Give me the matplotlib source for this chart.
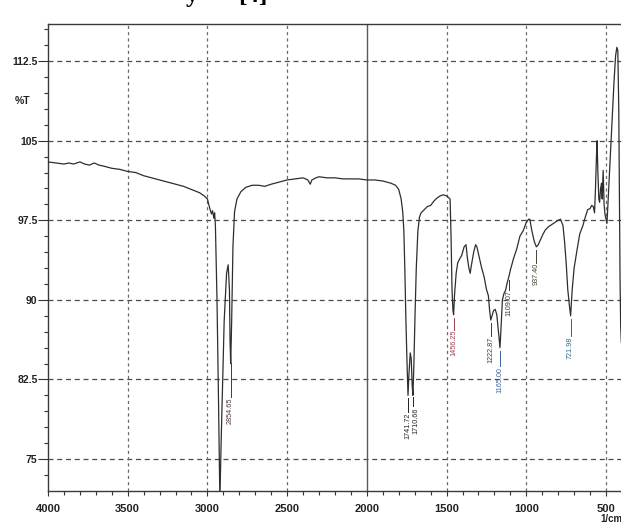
import numpy as np
import matplotlib
matplotlib.use("Agg")
import matplotlib.pyplot as plt
from matplotlib.ticker import MultipleLocator, FixedLocator

# ---------------- data ----------------
wavenumber = [
    4000, 3950, 3900, 3870, 3840, 3800, 3770, 3740, 3710, 3680, 3650, 3600, 3550,
    3500, 3450, 3400, 3350, 3300, 3250, 3200, 3150, 3100, 3050, 3020, 3000, 2985,
    2975, 2968, 2960, 2955, 2950, 2940, 2930, 2922, 2915, 2905, 2895, 2880, 2870,
    2862, 2858, 2854, 2848, 2840, 2830, 2815, 2790, 2760, 2720, 2680, 2640, 2600,
    2550, 2500, 2450, 2400, 2370, 2355, 2345, 2320, 2300, 2250, 2200, 2150, 2100,
    2050, 2000, 1950, 1900, 1850, 1820, 1800, 1785, 1775, 1768, 1762, 1755, 1748,
    1742, 1736, 1728, 1722, 1716, 1711, 1705, 1698, 1690, 1680, 1670, 1660, 1640,
    1620, 1600, 1580, 1560, 1540, 1520, 1500, 1485, 1478, 1472, 1466, 1460, 1456,
    1450, 1440, 1430, 1420, 1405, 1390, 1378, 1370, 1360, 1352, 1345, 1330, 1318,
    1310, 1295, 1280, 1265, 1250, 1238, 1230, 1223, 1215, 1205, 1195, 1185, 1175,
    1165, 1158, 1150, 1140, 1130, 1120, 1109, 1100, 1080, 1060, 1040, 1020, 1000,
    985, 978, 965, 950, 937, 925, 910, 895, 880, 860, 840, 820, 800, 785, 770, 760,
    750, 740, 730, 722, 712, 700, 684, 665, 645, 630, 615, 600, 590, 580, 572, 566,
    560, 556, 551, 545, 540, 534, 528, 524, 518, 512, 506, 500, 494, 488, 480, 470,
    460, 450, 440, 432, 426, 420, 416, 412, 408, 404,
]
transmittance = [
    103.0, 102.9, 102.8, 102.9, 102.8, 103.0, 102.8, 102.7, 102.9, 102.7, 102.6, 102.4, 102.3,
    102.1, 102.0, 101.7, 101.5, 101.3, 101.1, 100.9, 100.7, 100.4, 100.1, 99.8, 99.5, 98.6,
    98.1, 98.4, 97.7, 98.2, 97.0, 90.0, 80.0, 71.0, 76.0, 82.0, 88.0, 92.5, 93.3,
    91.0, 86.0, 84.0, 88.0, 95.0, 98.3, 99.5, 100.2, 100.6, 100.8, 100.8, 100.7, 100.9,
    101.1, 101.3, 101.4, 101.5, 101.3, 100.9, 101.3, 101.5, 101.6, 101.5, 101.5, 101.4, 101.4,
    101.4, 101.3, 101.3, 101.2, 101.0, 100.8, 100.4, 99.5, 98.3, 96.5, 93.0, 88.0, 84.0,
    81.0, 83.0, 85.0, 84.5, 82.0, 81.0, 84.0, 88.5, 93.0, 96.5, 97.8, 98.2, 98.5,
    98.8, 98.9, 99.3, 99.6, 99.8, 99.9, 99.8, 99.6, 99.5, 96.0, 91.0, 89.0, 88.6,
    90.5, 92.5, 93.5, 93.8, 94.2, 95.0, 95.2, 94.0, 93.0, 92.5, 93.2, 94.5, 95.2,
    95.0, 94.0, 93.0, 92.2, 91.0, 90.4, 89.0, 88.1, 88.5, 89.0, 89.1, 88.6, 87.0,
    85.5, 87.5, 90.0, 90.6, 90.9, 91.6, 92.2, 92.8, 93.9, 94.8, 96.0, 96.5, 97.3,
    97.6, 97.6, 96.5, 95.5, 95.0, 95.2, 95.7, 96.2, 96.6, 96.9, 97.1, 97.3, 97.5, 97.6, 97.0, 95.5,
    93.5, 91.0, 89.5, 88.5, 91.0, 93.0, 94.5, 96.2, 97.0, 97.8, 98.5, 98.6, 98.9, 98.8, 98.2, 100.5,
    103.5, 105.0, 102.0, 99.5, 99.2, 100.5, 101.0, 99.5, 102.2, 99.0, 98.0, 97.6, 97.2, 99.0, 101.5, 104.5,
    107.5, 110.5, 113.0, 113.8, 113.5, 108.0, 100.0, 92.0, 87.5, 86.0,
]

peak_labels = ["2854.65", "1741.72", "1710.66", "1456.25", "1222.87",
               "1165.00", "1109.07", "937.40", "721.98"]
peak_wn = [2854.65, 1741.72, 1710.66, 1456.25, 1222.87, 1165.00, 1109.07, 937.40, 721.98]

x_ticks = [4000, 3500, 3000, 2500, 2000, 1500, 1000, 500]
y_ticks = [75, 82.5, 90, 97.5, 105, 112.5]
y_tick_labels = ["75", "82.5", "90", "97.5", "105", "112.5"]

# ---------------- layout / style ----------------
label_text_top = [80.75, 79.4, 79.9, 87.15, 86.5, 83.67, 90.9, 93.47, 86.5]
label_text_dx = [0, 4, -20, 0, 0, 0, 0, 0, 0]
label_colors = ["#4a3535", "#222222", "#222222", "#a0404e", "#3a3a3a",
                "#3a62a0", "#3a3a3a", "#45452a", "#2f6a86"]

plt.rcParams['font.family'] = ['Liberation Sans', 'DejaVu Sans']

fig = plt.figure(figsize=(6.21, 5.24), dpi=100)
ax = fig.add_axes([48 / 621, 33.5 / 524, (621 - 48) / 621, 466.5 / 524])

wn = np.array(wavenumber, dtype=float)
tr = np.array(transmittance, dtype=float)

# grid
for yt in y_ticks:
    ax.axhline(yt, color="#4a4a4a", lw=0.9, ls=(0, (4, 3)), zorder=1)
for xt in x_ticks[1:]:
    if xt == 2000:
        ax.axvline(xt, color="#5a5a5a", lw=1.0, zorder=1)
    else:
        ax.axvline(xt, color="#6a6a6a", lw=0.9, ls=(0, (2.5, 2.5)), zorder=1)

ax.plot(wn, tr, color="#2e2e2e", lw=0.9, zorder=3)

# peak annotations
for lab, pw, ttop, dx, col in zip(peak_labels, peak_wn, label_text_top, label_text_dx, label_colors):
    yv = np.interp(pw, wn[::-1], tr[::-1])
    ax.plot([pw, pw], [yv - 0.3, ttop + 0.05], color=col, lw=0.7, zorder=3)
    ax.text(pw + dx, ttop, lab, rotation=90, ha="center", va="top",
            fontsize=5.2, color=col, zorder=4)

ax.set_xlim(4000, 406)
ax.set_ylim(72.03, 116.0)

ax.xaxis.set_major_locator(FixedLocator(x_ticks))
ax.xaxis.set_minor_locator(MultipleLocator(100))
ax.yaxis.set_major_locator(FixedLocator(y_ticks))
ax.yaxis.set_minor_locator(MultipleLocator(1.5))
ax.set_yticklabels(y_tick_labels)

ax.tick_params(axis="y", which="major", direction="out", length=7, width=0.8,
               pad=0.5, labelsize=7.5, colors="#333333", labelcolor="#222222")
ax.tick_params(axis="y", which="minor", direction="out", length=3, width=0.8, colors="#333333")
ax.tick_params(axis="x", which="major", direction="out", length=3.5, width=0.8,
               pad=6, labelsize=8, colors="#333333", labelcolor="#222222")
ax.tick_params(axis="x", which="minor", direction="out", length=3, width=0.8, colors="#333333")
for lbl in ax.get_xticklabels() + ax.get_yticklabels():
    lbl.set_fontweight("bold")

for side in ["left", "bottom", "top"]:
    ax.spines[side].set_color("#3a3a3a")
    ax.spines[side].set_linewidth(1.0)
ax.spines["right"].set_visible(False)

ax.text(-0.045, 108.7, "%T", transform=ax.get_yaxis_transform(), ha="center", va="center",
        fontsize=7.5, fontweight="bold", color="#222222")
fig.text(611 / 621, 1 - 519 / 524, "1/cm", ha="center", va="center",
         fontsize=7, fontweight="bold", color="#222222")

# clipped caption fragment at the very top (only its lower part is visible)
fig.text(192 / 621, 1 - 2 / 524, "y", ha="center", va="baseline",
         fontsize=18, fontweight="bold", family="Liberation Serif", color="black")
fig.text(253 / 621, 1 - 2 / 524, "[4]", ha="center", va="baseline",
         fontsize=18, fontweight="bold", family="Liberation Serif", color="black")

fig.savefig("out.png", dpi=100, facecolor="white")
